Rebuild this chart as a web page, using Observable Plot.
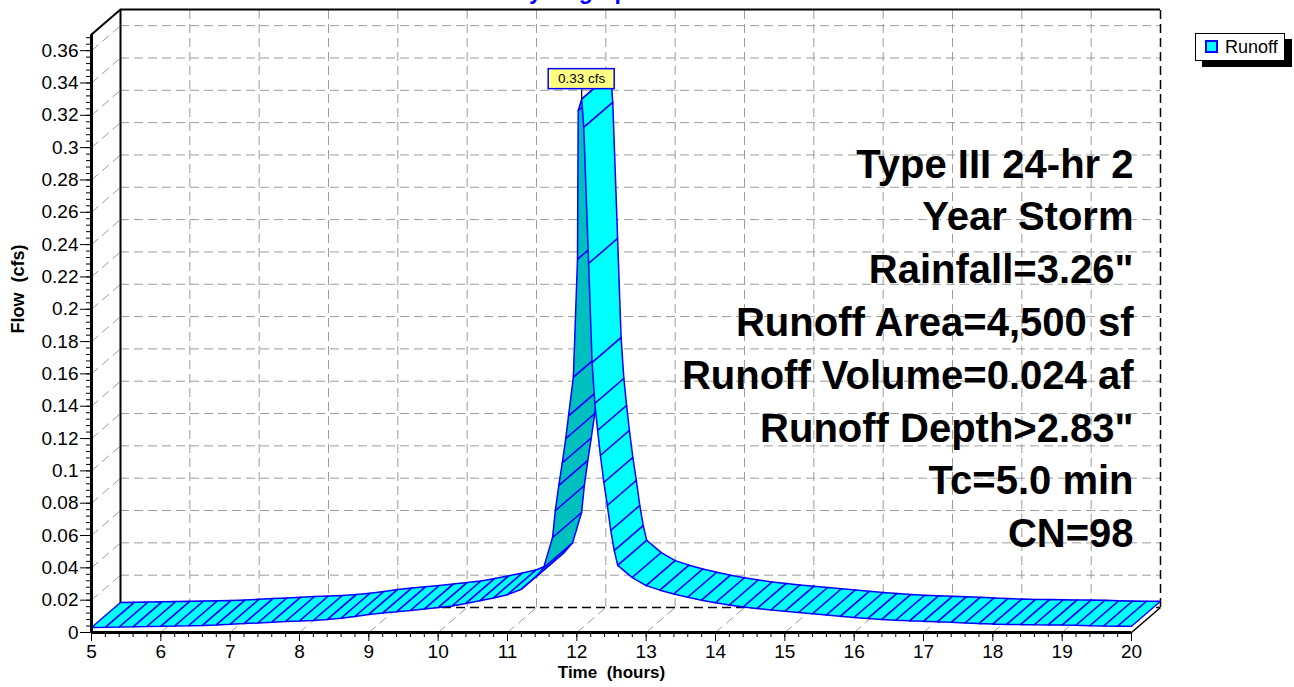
<!DOCTYPE html>
<html>
<head>
<meta charset="utf-8">
<script src="https://cdn.jsdelivr.net/npm/d3@7"></script>
<script src="https://cdn.jsdelivr.net/npm/@observablehq/plot@0.6"></script>
<style>
  html, body { margin: 0; padding: 0; background: #fff; }
  #wrap { position: relative; width: 1294px; height: 687px; overflow: hidden; font-family: "Liberation Sans", Arial, Helvetica, sans-serif; }
  #legend { position: absolute; left: 1195px; top: 33px; width: 90px; height: 28px; box-sizing: border-box;
            border: 1px solid #000; background: #fff; box-shadow: 7px 6px 0 #000; }
  #legend .sw { position: absolute; left: 9px; top: 6px; width: 13px; height: 13px; box-sizing: border-box;
                background: #00ffff; border: 2px solid #0000ff; }
  #legend .lb { position: absolute; left: 29px; top: 3px; font-size: 18px; line-height: 20px; color: #000; }
  #wrap svg g[aria-label="y-axis tick label"] { font-size: 19px; }
  #wrap svg g[aria-label="x-axis tick label"] { font-size: 19px; }
</style>
</head>
<body>
<div id="wrap"></div>
<script>
// ---------------- data ----------------
const titleText = "Hydrograph";
const seriesName = "Runoff";
const xLabel = "Time\u00a0 (hours)";
const yLabel = "Flow\u00a0 (cfs)";
const peakLabel = "0.33 cfs";

// time (hours) of each plotted point
const times = [
  5.0, 5.2, 5.4, 5.6, 5.8, 6.0, 6.2, 6.4, 6.6, 6.8,
  7.0, 7.2, 7.4, 7.6, 7.8, 8.0, 8.2, 8.4, 8.6, 8.8,
  9.0, 9.2, 9.4, 9.6, 9.8, 10.0, 10.2, 10.4, 10.6, 10.8,
  11.0, 11.2, 11.4, 11.52, 11.65, 11.69, 11.74, 11.79, 11.84, 11.88,
  11.95, 12.01, 12.02, 12.07, 12.10, 12.17, 12.22, 12.26, 12.30, 12.34,
  12.39, 12.44, 12.49, 12.54, 12.59, 12.8, 13.0, 13.2, 13.4, 13.6,
  13.8, 14.0, 14.2, 14.4, 14.6, 14.8, 15.0, 15.2, 15.4, 15.6,
  15.8, 16.0, 16.2, 16.4, 16.6, 16.8, 17.0, 17.2, 17.4, 17.6,
  17.8, 18.0, 18.2, 18.4, 18.6, 18.8, 19.0, 19.2, 19.4, 19.6,
  19.8, 20.0
];
// runoff flow (cfs) at each time
const flows = [
  0.0031, 0.0032, 0.0034, 0.0035, 0.0037, 0.0038, 0.0040, 0.0042, 0.0044, 0.0047,
  0.0051, 0.0055, 0.0059, 0.0064, 0.0068, 0.0071, 0.0074, 0.0080, 0.0088, 0.0099,
  0.0112, 0.0120, 0.0128, 0.0136, 0.0145, 0.0154, 0.0164, 0.0180, 0.0196, 0.0214,
  0.0234, 0.0268, 0.0340, 0.0400, 0.0588, 0.0755, 0.0910, 0.1050, 0.1200, 0.1340,
  0.1580, 0.2310, 0.3230, 0.3300, 0.3125, 0.2283, 0.1670, 0.1417, 0.1250, 0.1095,
  0.0928, 0.0786, 0.0631, 0.0507, 0.0415, 0.0340, 0.0290, 0.0262, 0.0238, 0.0218,
  0.0200, 0.0184, 0.0170, 0.0158, 0.0148, 0.0139, 0.0131, 0.0124, 0.0116, 0.0108,
  0.0100, 0.0093, 0.0087, 0.0081, 0.0076, 0.0072, 0.0069, 0.0066, 0.0063, 0.0059,
  0.0055, 0.0052, 0.0050, 0.0049, 0.0048, 0.0047, 0.0046, 0.0045, 0.0042, 0.0040,
  0.0039, 0.0039
];

const hourTicks = [5, 6, 7, 8, 9, 10, 11, 12, 13, 14, 15, 16, 17, 18, 19, 20];
const flowTicks = [0, 0.02, 0.04, 0.06, 0.08, 0.1, 0.12, 0.14, 0.16, 0.18, 0.2, 0.22, 0.24, 0.26, 0.28, 0.3, 0.32, 0.34, 0.36];
const flowTickLabels = ["0", "0.02", "0.04", "0.06", "0.08", "0.1", "0.12", "0.14", "0.16", "0.18", "0.2", "0.22", "0.24", "0.26", "0.28", "0.3", "0.32", "0.34", "0.36"];

const infoLines = [
  "Type III 24-hr 2",
  "Year Storm",
  "Rainfall=3.26\"",
  "Runoff Area=4,500 sf",
  "Runoff Volume=0.024 af",
  "Runoff Depth>2.83\"",
  "Tc=5.0 min",
  "CN=98"
];

// ---------------- layout ----------------
const W = 1294, H = 687;
const M = {left: 91, right: 163, top: 34, bottom: 55};
const xDomain = [5, 20], yDomain = [0, 0.37];
const kx = (W - M.left - M.right) / (xDomain[1] - xDomain[0]); // px per hour
const ky = (H - M.top - M.bottom) / (yDomain[1] - yDomain[0]); // px per cfs
const depthPx = [29, 25];
const DT = depthPx[0] / kx, DV = depthPx[1] / ky; // 3D depth offset in data units
const X0 = xDomain[0], X1 = xDomain[1], YTOP = yDomain[1];

const minorHourTicks = d3.range(X0, X1 + 1e-9, 0.2);
const minorFlowTicks = d3.range(0, YTOP + 1e-9, 0.004);

// ---------------- ribbon quads ----------------
const pts = times.map((t, i) => ({t, v: flows[i]}));
const quadPts = [];
for (let i = 0; i < pts.length - 1; i++) {
  const a = pts[i], b = pts[i + 1];
  const under = (b.v - a.v) * ky * depthPx[0] > (b.t - a.t) * kx * depthPx[1];
  const fill = under ? "#00bfbf" : "#00ffff";
  [[a.t, a.v], [b.t, b.v], [b.t + DT, b.v + DV], [a.t + DT, a.v + DV], [a.t, a.v]]
    .forEach(([t, v]) => quadPts.push({q: i, t, v, fill}));
}
const peak = pts.reduce((m, d) => d.v > m.v ? d : m, pts[0]);

const gridStyle = {stroke: "#9c9c9c", strokeWidth: 1, strokeDasharray: "9,5"};
const FONT = "\"Liberation Sans\", Arial, Helvetica, sans-serif";

const chart = Plot.plot({
  width: W, height: H,
  marginLeft: M.left, marginRight: M.right, marginTop: M.top, marginBottom: M.bottom,
  x: {domain: xDomain},
  y: {domain: yDomain},
  color: {type: "identity"},
  style: {fontFamily: FONT, background: "#fff", color: "#000", fontSize: "17px"},
  marks: [
    // back wall grid
    Plot.ruleY(flowTicks.slice(1), {y: v => v + DV, x1: X0 + DT, x2: X1 + DT, ...gridStyle}),
    Plot.ruleX(hourTicks.slice(1, -1), {x: h => h + DT, y1: DV, y2: YTOP + DV, ...gridStyle}),
    // floor and side-wall depth lines
    Plot.link(hourTicks.slice(1), {x1: h => h, y1: 0, x2: h => h + DT, y2: DV, ...gridStyle}),
    Plot.link(flowTicks.slice(1), {x1: X0, y1: v => v, x2: X0 + DT, y2: v => v + DV, ...gridStyle}),
    // back frame
    Plot.ruleY([DV], {x1: X0 + DT, x2: X1 + DT, stroke: "#000", strokeWidth: 1.5, strokeDasharray: "9,5"}),
    Plot.ruleX([X1 + DT], {y1: DV, y2: YTOP + DV, stroke: "#000", strokeWidth: 1.5, strokeDasharray: "9,5"}),
    Plot.ruleY([YTOP + DV], {x1: X0 + DT, x2: X1 + DT, stroke: "#000", strokeWidth: 2}),
    Plot.ruleX([X0 + DT], {y1: DV, y2: YTOP + DV, stroke: "#000", strokeWidth: 2}),
    Plot.link([0], {x1: X0, y1: YTOP, x2: X0 + DT, y2: YTOP + DV, stroke: "#000", strokeWidth: 2}),
    Plot.link([0], {x1: X1, y1: 0, x2: X1 + DT, y2: DV, stroke: "#000", strokeWidth: 1.5}),
    // 3D runoff ribbon
    Plot.line(quadPts, {x: "t", y: "v", z: "q", fill: "fill", stroke: "#0000ff", strokeWidth: 1.5, strokeLinejoin: "round"}),
    // axes
    Plot.axisY(minorFlowTicks, {tickSize: 5, tickFormat: () => "", label: null}),
    Plot.axisY(flowTicks, {tickSize: 11, tickPadding: 2, fontSize: 19, label: null,
      tickFormat: d => flowTickLabels[flowTicks.indexOf(d)]}),
    Plot.axisX(minorHourTicks, {tickSize: 5, tickFormat: () => "", label: null}),
    Plot.axisX(hourTicks, {tickSize: 9, tickPadding: 3, fontSize: 19, label: null}),
    Plot.ruleX([X0], {y1: 0, y2: YTOP, stroke: "#000", strokeWidth: 3}),
    Plot.ruleY([0], {x1: X0, x2: X1, stroke: "#000", strokeWidth: 3}),
    // axis titles
    Plot.text([yLabel], {text: d => d, frameAnchor: "left", dx: -73, rotate: -90, fontWeight: "bold", fontSize: 18}),
    Plot.text([xLabel], {text: d => d, frameAnchor: "bottom", dy: 45, fontWeight: "bold", fontSize: 17}),
    // chart title (cut off at top edge as in the original)
    Plot.text([titleText], {text: d => d, frameAnchor: "top", dx: -34, dy: -36, lineAnchor: "bottom",
      fill: "#0000ff", fontWeight: "bold", fontSize: 23}),
    // storm info
    Plot.text([infoLines.join("\n")], {text: d => d, frameAnchor: "right", textAnchor: "end", lineAnchor: "middle",
      lineHeight: 1.32, fontSize: 40, fontWeight: "bold", dx: 2, dy: 12}),
    // peak label
    Plot.link([peak], {x1: "t", y1: "v", x2: "t", y2: d => d.v + 10 / ky, stroke: "#000", strokeWidth: 1.2}),
    Plot.rect([peak], {x1: d => d.t - 33 / kx, x2: d => d.t + 33 / kx, y1: d => d.v + 10 / ky, y2: d => d.v + 30 / ky,
      fill: "#ffff80", stroke: "#0000ff", strokeWidth: 1.5}),
    Plot.text([peak], {x: "t", y: d => d.v + 20 / ky, text: () => peakLabel, fontSize: 13.5})
  ]
});

const wrap = document.getElementById("wrap");
wrap.appendChild(chart);
const legend = document.createElement("div");
legend.id = "legend";
legend.innerHTML = `<div class="sw"></div><div class="lb">${seriesName}</div>`;
wrap.appendChild(legend);
</script>
</body>
</html>
